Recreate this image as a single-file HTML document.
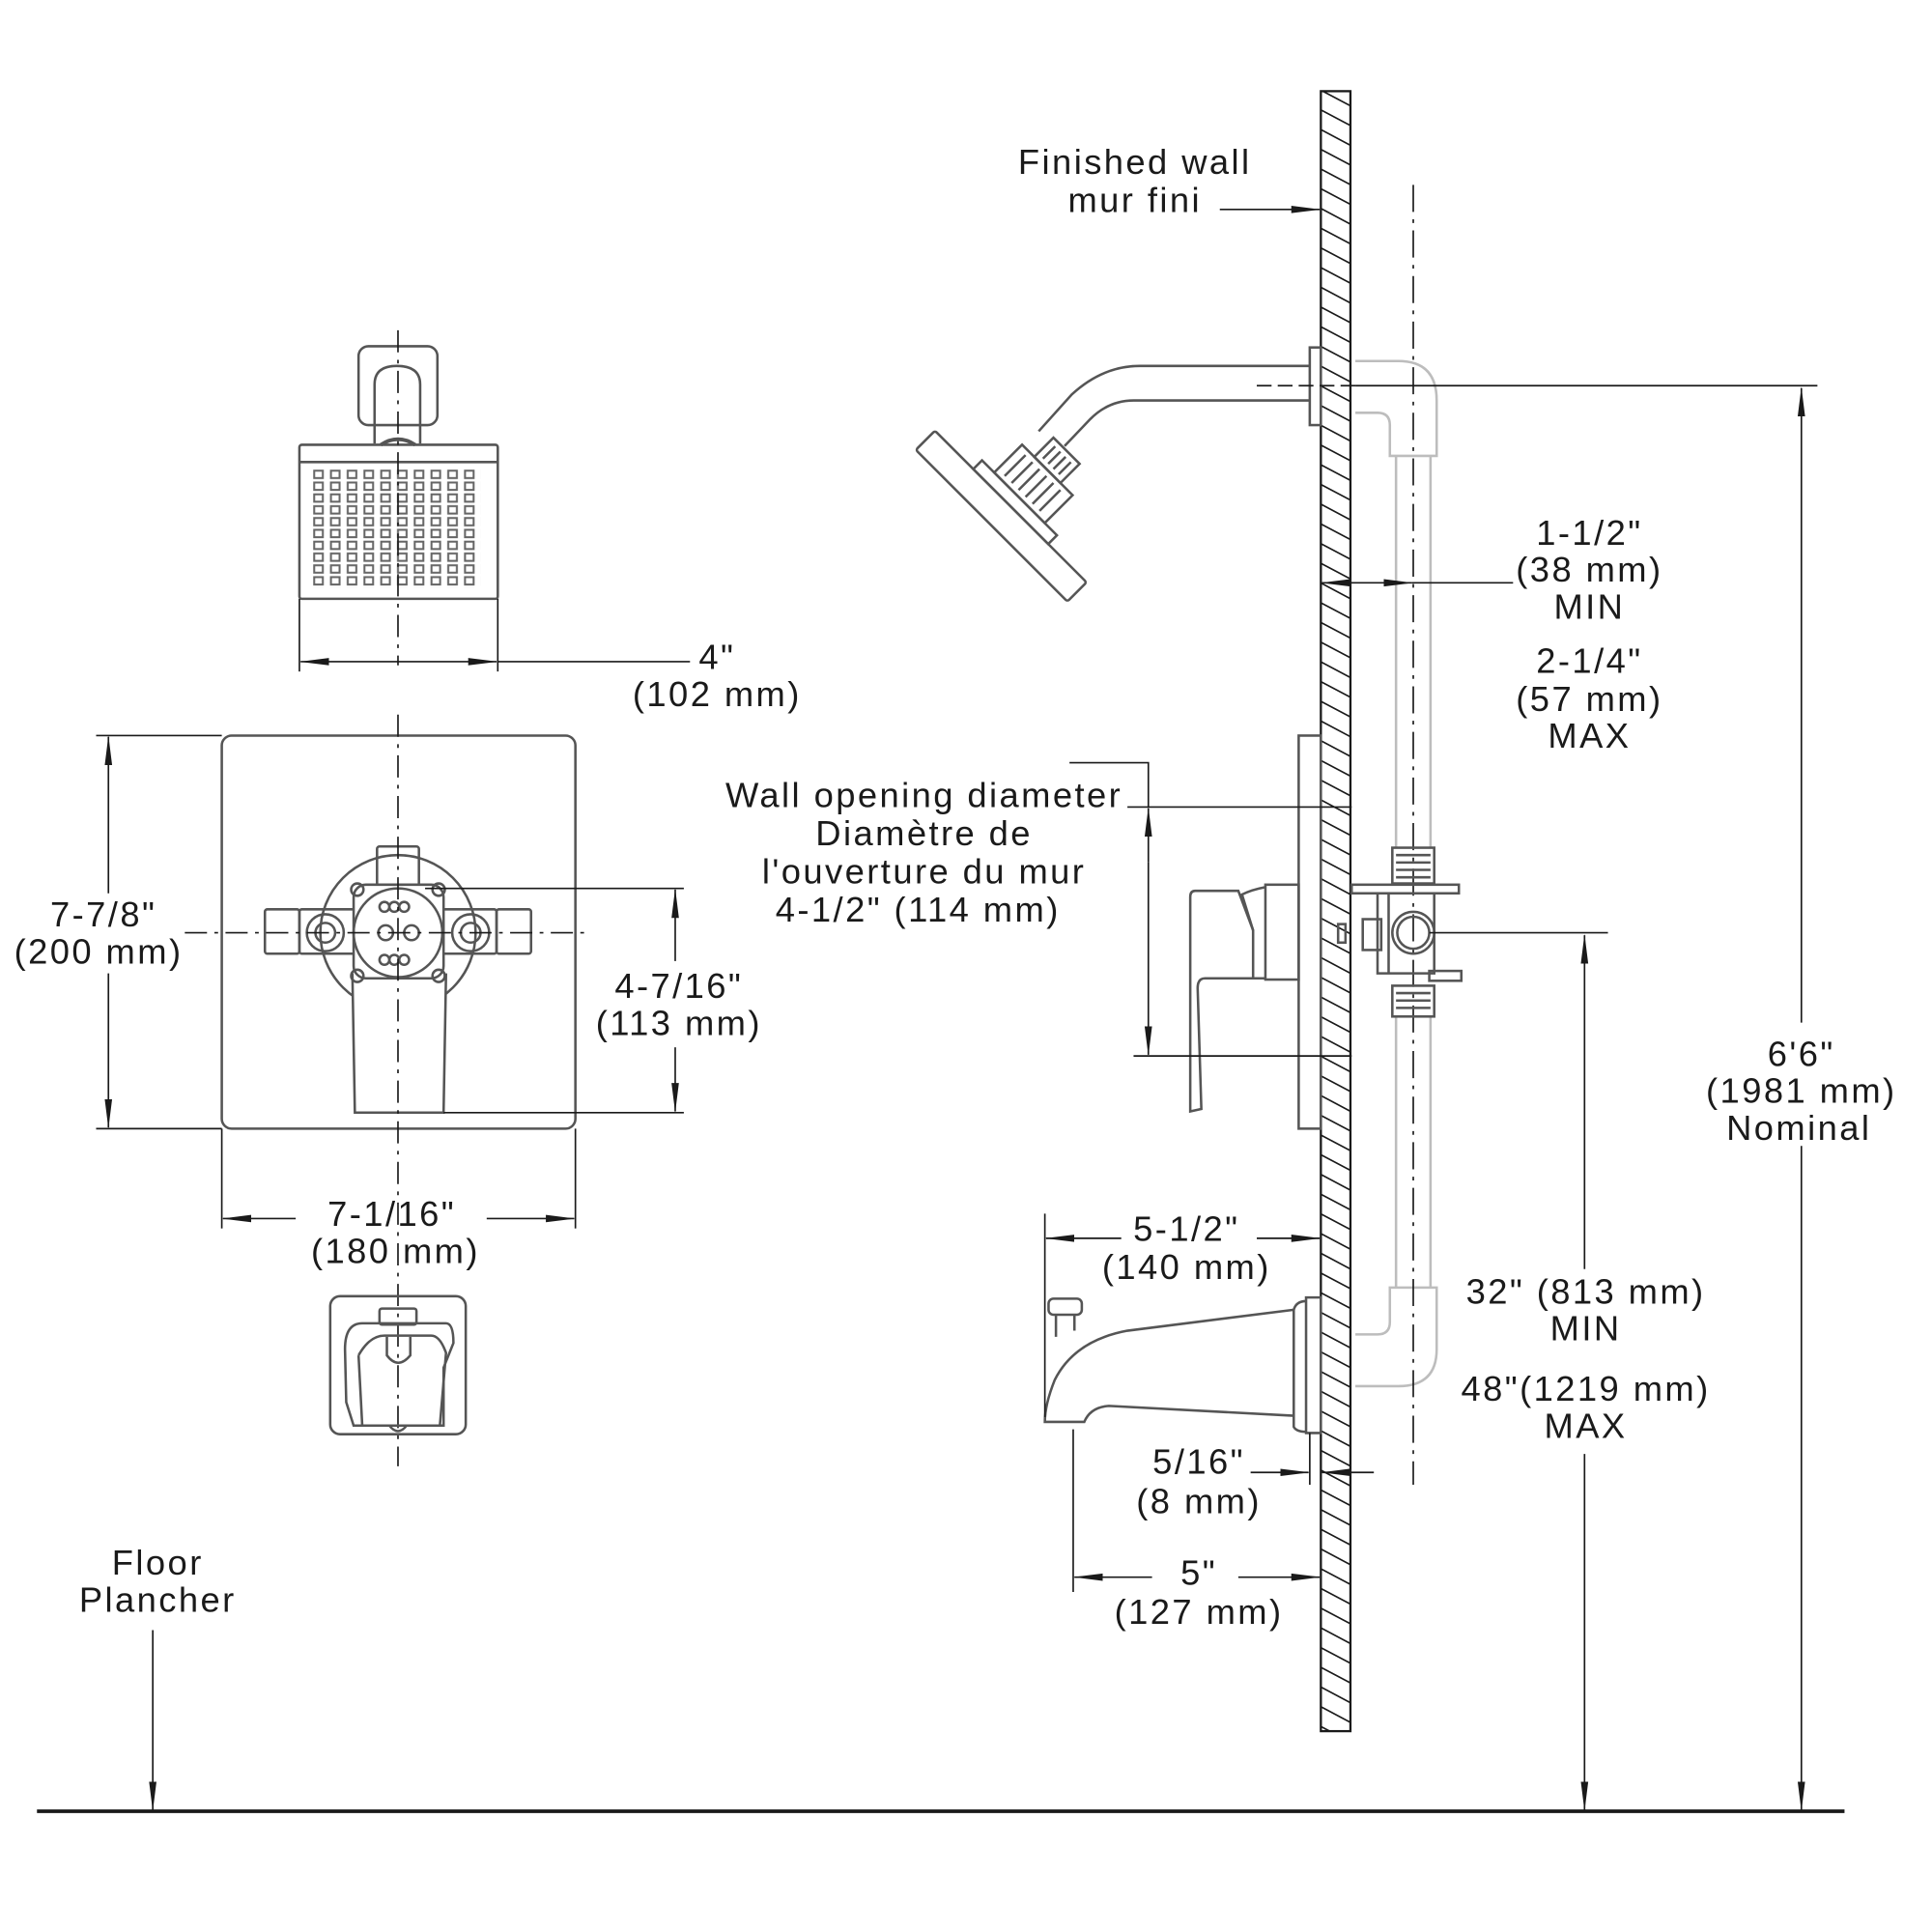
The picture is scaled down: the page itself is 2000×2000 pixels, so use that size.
<!DOCTYPE html>
<html><head><meta charset="utf-8"><style>
html,body{margin:0;padding:0;background:#fff}
svg{display:block}
text{font-family:"Liberation Sans","DejaVu Sans",sans-serif;font-size:28.5px;letter-spacing:1.9px;fill:#1a1a1a;text-anchor:middle}
</style></head><body>
<svg width="2000" height="2000" viewBox="0 0 1568 1568" xmlns="http://www.w3.org/2000/svg">
<defs>
<marker id="a" markerWidth="24" markerHeight="8" refX="23" refY="4" orient="auto-start-reverse" markerUnits="userSpaceOnUse">
<path d="M0,1 L24,4 L0,7 Z" fill="#1a1a1a"/></marker>
<clipPath id="wc"><rect x="1072" y="74" width="24" height="1331"/></clipPath>
<pattern id="g" x="254" y="381" width="13.6" height="9.6" patternUnits="userSpaceOnUse">
<rect x="1" y="1" width="7" height="6" fill="none" stroke="#666" stroke-width="1.6"/></pattern>
</defs>
<g fill="none" stroke="#1a1a1a" stroke-width="1.3">
<line x1="30" y1="1470" x2="1497" y2="1470" stroke-width="3"/>
<line x1="124" y1="1323" x2="124" y2="1469" marker-end="url(#a)"/>
<rect x="1072" y="74" width="24" height="1331" stroke-width="1.8"/>
</g>
<g clip-path="url(#wc)" stroke="#1a1a1a" stroke-width="1.3" fill="none">
<path d="
M1066,70 l34,18 M1066,86 l34,18 M1066,102 l34,18 M1066,118 l34,18 M1066,134 l34,18 M1066,150 l34,18 M1066,166 l34,18 M1066,182 l34,18 M1066,198 l34,18 M1066,214 l34,18
M1066,230 l34,18 M1066,246 l34,18 M1066,262 l34,18 M1066,278 l34,18 M1066,294 l34,18 M1066,310 l34,18 M1066,326 l34,18 M1066,342 l34,18 M1066,358 l34,18 M1066,374 l34,18
M1066,390 l34,18 M1066,406 l34,18 M1066,422 l34,18 M1066,438 l34,18 M1066,454 l34,18 M1066,470 l34,18 M1066,486 l34,18 M1066,502 l34,18 M1066,518 l34,18 M1066,534 l34,18
M1066,550 l34,18 M1066,566 l34,18 M1066,582 l34,18 M1066,598 l34,18 M1066,614 l34,18 M1066,630 l34,18 M1066,646 l34,18 M1066,662 l34,18 M1066,678 l34,18 M1066,694 l34,18
M1066,710 l34,18 M1066,726 l34,18 M1066,742 l34,18 M1066,758 l34,18 M1066,774 l34,18 M1066,790 l34,18 M1066,806 l34,18 M1066,822 l34,18 M1066,838 l34,18 M1066,854 l34,18
M1066,870 l34,18 M1066,886 l34,18 M1066,902 l34,18 M1066,918 l34,18 M1066,934 l34,18 M1066,950 l34,18 M1066,966 l34,18 M1066,982 l34,18 M1066,998 l34,18 M1066,1014 l34,18
M1066,1030 l34,18 M1066,1046 l34,18 M1066,1062 l34,18 M1066,1078 l34,18 M1066,1094 l34,18 M1066,1110 l34,18 M1066,1126 l34,18 M1066,1142 l34,18 M1066,1158 l34,18 M1066,1174 l34,18
M1066,1190 l34,18 M1066,1206 l34,18 M1066,1222 l34,18 M1066,1238 l34,18 M1066,1254 l34,18 M1066,1270 l34,18 M1066,1286 l34,18 M1066,1302 l34,18 M1066,1318 l34,18 M1066,1334 l34,18
M1066,1350 l34,18 M1066,1366 l34,18 M1066,1382 l34,18 M1066,1398 l34,18"/>
</g>

<g fill="none" stroke="#bdbdbd" stroke-width="2">
<path d="M1100,293 H1135 Q1166,293 1166,325 V370 H1128 V345 Q1128,335 1118,335 H1100"/>
<path d="M1133,370 V688 M1161,370 V688 M1133,825 V1045 M1161,825 V1045"/>
<path d="M1100,1083 H1118 Q1128,1083 1128,1073 V1045 H1166 V1095 Q1166,1125 1135,1125 H1100"/>
</g>
<line x1="1147" y1="150" x2="1147" y2="1205" stroke="#1a1a1a" stroke-width="1.3" stroke-dasharray="22,6,3,6"/>

<g fill="none" stroke="#555" stroke-width="2">
<rect x="1063" y="282" width="9" height="63"/>
<path d="M1063,297 H925 Q895,297 870,320 L843,350"/>
<path d="M1063,325 H920 Q900,325 885,340 L864,362"/>
<g transform="rotate(45 838 392)">
<rect x="824" y="354" width="30" height="22"/>
<rect x="810" y="376" width="58" height="32"/>
<path d="M830,358v14M836,358v14M842,358v14M848,358v14M818,380v24M826,380v24M834,380v24M842,380v24M850,380v24M858,380v24"/>
<rect x="796" y="408" width="86" height="10"/>
<rect x="752" y="418" width="174" height="22" rx="2"/>
</g>
<rect x="1054" y="597" width="18" height="319"/>
<rect x="1027" y="718" width="27" height="77"/>
<path d="M1027,720 Q1016,722 1008,726 L1017,755 V794 H1027"/>
<path d="M970,723 H1005 L1017,755 M1017,794 H978 Q972,794 972,802 L975,900 L966,902 L966,728 Q966,723 970,723"/>
<rect x="1130" y="688" width="34" height="29"/>
<path d="M1133,694H1161M1133,700H1161M1133,706H1161M1133,712H1161"/>
<rect x="1097" y="718" width="87" height="7"/>
<rect x="1130" y="800" width="34" height="25"/>
<path d="M1133,806H1161M1133,812H1161M1133,818H1161"/>
<rect x="1160" y="788" width="26" height="8"/>
<path d="M1118,725 V790 H1130 M1127,725 V790 M1130,790 H1164 V725"/>
<rect x="1106" y="746" width="15" height="25"/>
<rect x="1086" y="750" width="6" height="15"/>
<circle cx="1147" cy="757" r="17"/><circle cx="1147" cy="757" r="13"/>
<path d="M1060,1053 V1163 H1072 V1053 Z"/>
<path d="M1060,1056 Q1052,1056 1050,1063 L1050,1158 Q1052,1162 1060,1162"/>
<path d="M1050,1063 L915,1080 Q872,1088 856,1120 Q848,1140 848,1154 H880 Q885,1142 900,1141 L1050,1149"/>
<rect x="851" y="1054" width="27" height="13" rx="4"/>
<path d="M857,1067 V1085 M872,1067 V1080"/>
</g>
<g fill="none" stroke="#1a1a1a" stroke-width="1.3">
<line x1="1020" y1="313" x2="1100" y2="313" stroke-dasharray="12,5"/>
<line x1="1100" y1="313" x2="1475" y2="313"/>
<line x1="1160" y1="757" x2="1305" y2="757"/>
<line x1="1462" y1="315" x2="1462" y2="830" marker-start="url(#a)"/>
<line x1="1462" y1="930" x2="1462" y2="1469" marker-end="url(#a)"/>
<line x1="1286" y1="759" x2="1286" y2="1030" marker-start="url(#a)"/>
<line x1="1286" y1="1180" x2="1286" y2="1469" marker-end="url(#a)"/>
<line x1="1073" y1="473" x2="1146" y2="473" marker-start="url(#a)" marker-end="url(#a)"/>
<line x1="1146" y1="473" x2="1228" y2="473"/>
<line x1="990" y1="170" x2="1071" y2="170" marker-end="url(#a)"/>
<path d="M868,619 H932 V655"/>
<line x1="932" y1="656" x2="932" y2="700" marker-start="url(#a)"/>
<line x1="932" y1="700" x2="932" y2="856" marker-end="url(#a)"/>
<line x1="915" y1="655" x2="1097" y2="655"/>
<line x1="920" y1="857" x2="1097" y2="857"/>
<line x1="848" y1="985" x2="848" y2="1150"/>
<line x1="849" y1="1005" x2="910" y2="1005" marker-start="url(#a)"/>
<line x1="1020" y1="1005" x2="1071" y2="1005" marker-end="url(#a)"/>
<line x1="1063" y1="1163" x2="1063" y2="1205"/>
<line x1="1015" y1="1195" x2="1062" y2="1195" marker-end="url(#a)"/>
<line x1="1115" y1="1195" x2="1073" y2="1195" marker-end="url(#a)"/>
<line x1="871" y1="1160" x2="871" y2="1292"/>
<line x1="872" y1="1280" x2="935" y2="1280" marker-start="url(#a)"/>
<line x1="1005" y1="1280" x2="1071" y2="1280" marker-end="url(#a)"/>
</g>

<g fill="none" stroke="#555" stroke-width="2">
<rect x="291" y="281" width="64" height="64" rx="8"/>
<path d="M304,360 V312 Q304,297 322,297 Q341,297 341,312 V360"/>
<path d="M309,361 Q323,352 337,361" stroke-width="3"/>
<rect x="243" y="361" width="161" height="125" rx="2"/>
<line x1="243" y1="375" x2="404" y2="375"/>
</g>
<rect x="254" y="381" width="136" height="96" fill="url(#g)"/>
<g fill="none" stroke="#1a1a1a" stroke-width="1.3">
<line x1="323" y1="268" x2="323" y2="540" stroke-dasharray="18,6,3,6"/>
<line x1="243" y1="486" x2="243" y2="545"/><line x1="404" y1="486" x2="404" y2="545"/>
<line x1="244" y1="537" x2="403" y2="537" marker-start="url(#a)" marker-end="url(#a)"/>
<line x1="404" y1="537" x2="560" y2="537"/>
</g>

<g fill="none" stroke="#555" stroke-width="2">
<rect x="180" y="597" width="287" height="319" rx="8"/>
<circle cx="323" cy="757" r="63"/>
<rect x="215" y="738" width="28" height="36" rx="2"/><rect x="243" y="738" width="45" height="36" rx="2"/>
<rect x="403" y="738" width="28" height="36" rx="2"/><rect x="358" y="738" width="45" height="36" rx="2"/>
<rect x="306" y="687" width="34" height="32" rx="2"/>
<rect x="306" y="794" width="34" height="29" rx="2"/>
<path d="M286,790 L288,903 H360 L362,790" fill="#fff"/>
<rect x="287" y="718" width="73" height="76" rx="10" fill="#fff"/>
<circle cx="323" cy="757" r="36"/>
<circle cx="264" cy="757" r="15"/><circle cx="264" cy="757" r="8"/>
<circle cx="382" cy="757" r="15"/><circle cx="382" cy="757" r="8"/>
<circle cx="290" cy="722" r="5"/><circle cx="356" cy="722" r="5"/><circle cx="290" cy="792" r="5"/><circle cx="356" cy="792" r="5"/>
<circle cx="312" cy="736" r="4"/><circle cx="320" cy="736" r="4"/><circle cx="328" cy="736" r="4"/>
<circle cx="312" cy="779" r="4"/><circle cx="320" cy="779" r="4"/><circle cx="328" cy="779" r="4"/>
<circle cx="313" cy="757" r="6"/><circle cx="334" cy="757" r="6"/>
</g>
<g fill="none" stroke="#1a1a1a" stroke-width="1.3">
<line x1="323" y1="580" x2="323" y2="1190" stroke-dasharray="18,6,3,6"/>
<line x1="150" y1="757" x2="480" y2="757" stroke-dasharray="18,6,3,6"/>
<line x1="78" y1="597" x2="180" y2="597"/><line x1="78" y1="916" x2="180" y2="916"/>
<line x1="88" y1="598" x2="88" y2="725" marker-start="url(#a)"/>
<line x1="88" y1="790" x2="88" y2="915" marker-end="url(#a)"/>
<line x1="345" y1="721" x2="555" y2="721"/><line x1="360" y1="903" x2="555" y2="903"/>
<line x1="548" y1="722" x2="548" y2="780" marker-start="url(#a)"/>
<line x1="548" y1="850" x2="548" y2="902" marker-end="url(#a)"/>
<line x1="180" y1="916" x2="180" y2="997"/><line x1="467" y1="916" x2="467" y2="997"/>
<line x1="181" y1="989" x2="240" y2="989" marker-start="url(#a)"/>
<line x1="395" y1="989" x2="466" y2="989" marker-end="url(#a)"/>
</g>

<g fill="none" stroke="#555" stroke-width="2">
<rect x="268" y="1052" width="110" height="112" rx="8"/>
<path d="M280,1095 Q280,1074 294,1074 H362 Q368,1074 368,1090 L360,1110 V1157 H287 L281,1138 Z"/>
<path d="M291,1100 Q300,1084 312,1084 H350 Q357,1084 362,1098 L357,1157 M291,1100 L294,1157"/>
<rect x="308" y="1062" width="30" height="13" rx="2"/>
<path d="M314,1085 V1100 Q323,1112 333,1100 V1085"/>
<path d="M316,1157 Q323,1166 330,1157"/>
</g>

<text x="921" y="141">Finished wall</text>
<text x="921" y="172">mur fini</text>
<text x="582" y="543">4"</text>
<text x="582" y="573">(102 mm)</text>
<text x="84" y="752">7-7/8"</text>
<text x="80" y="782">(200 mm)</text>
<text x="551" y="810">4-7/16"</text>
<text x="551" y="840">(113 mm)</text>
<text x="318" y="995">7-1/16"</text>
<text x="321" y="1025">(180 mm)</text>
<text x="750" y="655">Wall opening diameter</text>
<text x="750" y="686">Diamètre de</text>
<text x="750" y="717">l'ouverture du mur</text>
<text x="745" y="748">4-1/2" (114 mm)</text>
<text x="1290" y="442">1-1/2"</text>
<text x="1290" y="472">(38 mm)</text>
<text x="1290" y="502">MIN</text>
<text x="1290" y="546">2-1/4"</text>
<text x="1290" y="577">(57 mm)</text>
<text x="1290" y="607">MAX</text>
<text x="1462" y="865">6'6"</text>
<text x="1462" y="895">(1981 mm)</text>
<text x="1460" y="925">Nominal</text>
<text x="963" y="1007">5-1/2"</text>
<text x="963" y="1038">(140 mm)</text>
<text x="1287" y="1058">32" (813 mm)</text>
<text x="1287" y="1088">MIN</text>
<text x="1287" y="1137">48"(1219 mm)</text>
<text x="1287" y="1167">MAX</text>
<text x="973" y="1196">5/16"</text>
<text x="973" y="1228">(8 mm)</text>
<text x="973" y="1286">5"</text>
<text x="973" y="1318">(127 mm)</text>
<text x="128" y="1278">Floor</text>
<text x="128" y="1308">Plancher</text>
</svg>
</body></html>
